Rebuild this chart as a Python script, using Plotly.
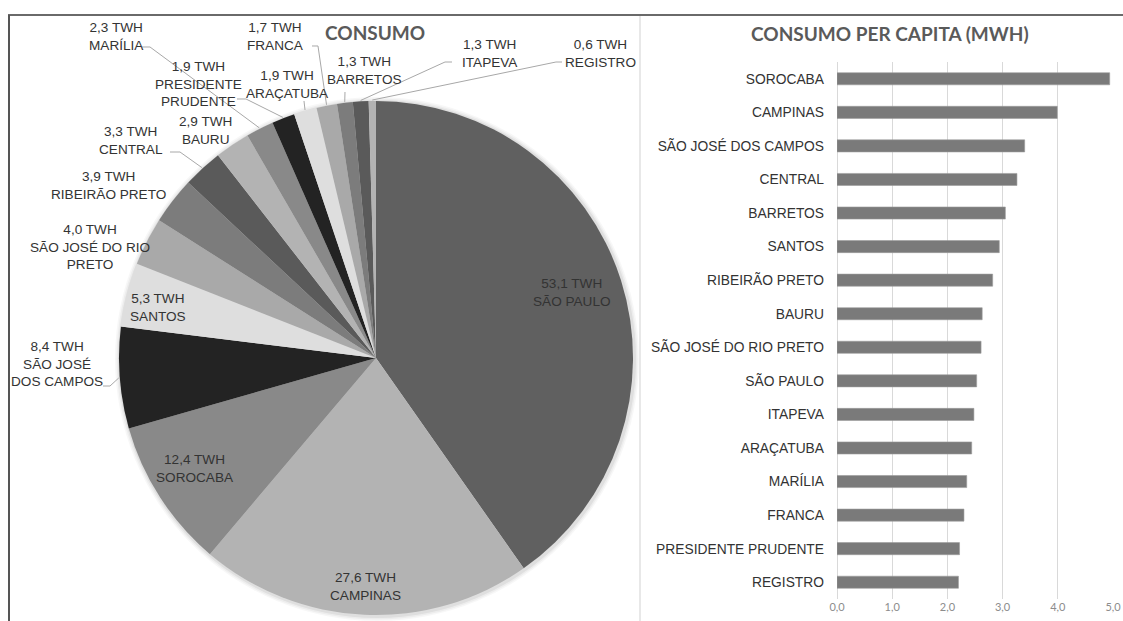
import math
import plotly.graph_objects as go

W, H = 1123, 621

# ---- Consumo total por região (TWh) ----
regioes = ["SÃO PAULO", "CAMPINAS", "SOROCABA", "SÃO JOSÉ DOS CAMPOS", "SANTOS",
           "SÃO JOSÉ DO RIO PRETO", "RIBEIRÃO PRETO", "CENTRAL", "BAURU", "MARÍLIA",
           "PRESIDENTE PRUDENTE", "ARAÇATUBA", "FRANCA", "BARRETOS", "ITAPEVA", "REGISTRO"]
consumo_twh = [53.1, 27.6, 12.4, 8.4, 5.3, 4.0, 3.9, 3.3, 2.9, 2.3, 1.9, 1.9, 1.7, 1.3, 1.3, 0.6]
nomes_rotulo = ["SÃO PAULO", "CAMPINAS", "SOROCABA", "SÃO JOSÉ<br>DOS CAMPOS", "SANTOS",
                "SÃO JOSÉ DO RIO<br>PRETO", "RIBEIRÃO PRETO", "CENTRAL", "BAURU", "MARÍLIA",
                "PRESIDENTE<br>PRUDENTE", "ARAÇATUBA", "FRANCA", "BARRETOS", "ITAPEVA", "REGISTRO"]
cores_pizza = ["#606060", "#b3b3b3", "#898989", "#232323", "#dedede", "#a9a9a9", "#7c7c7c",
               "#5a5a5a", "#b3b3b3", "#898989", "#232323", "#dedede", "#a9a9a9", "#7c7c7c",
               "#5a5a5a", "#b3b3b3"]

# ---- Consumo per capita (MWh) ----
regioes_pc = ["SOROCABA", "CAMPINAS", "SÃO JOSÉ DOS CAMPOS", "CENTRAL", "BARRETOS", "SANTOS",
              "RIBEIRÃO PRETO", "BAURU", "SÃO JOSÉ DO RIO PRETO", "SÃO PAULO", "ITAPEVA",
              "ARAÇATUBA", "MARÍLIA", "FRANCA", "PRESIDENTE PRUDENTE", "REGISTRO"]
consumo_pc_mwh = [4.94, 3.99, 3.40, 3.26, 3.05, 2.94, 2.82, 2.63, 2.61, 2.53, 2.48, 2.44,
                  2.35, 2.30, 2.22, 2.20]
ticks_pc = [0, 1, 2, 3, 4, 5]

# ---- geometry helpers (pixel -> paper) ----
def px(x):
    return x / W

def py(y):
    return 1 - y / H

CX, CY, R = 376, 358, 257          # pie centre / radius in pixels
TOTAL = sum(consumo_twh)


def borda(i, extra=1.0):
    """Point on the pie rim at the middle angle of slice i (pixels)."""
    antes = sum(consumo_twh[:i])
    ang = (antes + consumo_twh[i] / 2) / TOTAL * 2 * math.pi
    r = R + extra
    return CX + r * math.sin(ang), CY - r * math.cos(ang)


FONT_TXT = "Liberation Sans, Arial, sans-serif"
FONT_TIT = "Lato, Open Sans, sans-serif"

fig = go.Figure()

fig.add_trace(go.Pie(
    values=consumo_twh, labels=regioes, sort=False, direction="clockwise", rotation=0,
    marker=dict(colors=cores_pizza, line=dict(width=0)),
    textinfo="none", hoverinfo="label+value", showlegend=False,
    domain=dict(x=[px(CX - R), px(CX + R)], y=[py(CY + R), py(CY - R)]),
))

fig.add_trace(go.Bar(
    x=consumo_pc_mwh, y=regioes_pc, orientation="h",
    marker=dict(color="#7a7a7a", line=dict(color="#9c9c9c", width=0.6)),
    showlegend=False, xaxis="x", yaxis="y",
))

# label centres (pixels) for each slice
pos_rotulos = [(572, 292), (365, 586), (195, 468), (57, 364), (158, 307), (90, 247),
               (108, 185), (131, 140), (205, 130), (116, 36), (198, 84), (287, 85),
               (275, 36), (364, 70), (490, 54), (600, 54)]

anots = []
for i, (v, nome) in enumerate(zip(consumo_twh, nomes_rotulo)):
    txt = f"{v:.1f}".replace(".", ",") + " TWH<br>" + nome
    x, y = pos_rotulos[i]
    anots.append(dict(x=px(x), y=py(y), xref="paper", yref="paper", text=txt,
                      showarrow=False, align="center", xanchor="center", yanchor="middle",
                      font=dict(family=FONT_TXT, size=13.6, color="#333333")))

anots.append(dict(x=px(375), y=py(32), xref="paper", yref="paper", text="<b>CONSUMO</b>",
                  showarrow=False, xanchor="center", yanchor="middle",
                  font=dict(family=FONT_TIT, size=19, color="#5a5a5a")))
anots.append(dict(x=px(890), y=py(33), xref="paper", yref="paper",
                  text="<b>CONSUMO PER CAPITA (MWH)</b>",
                  showarrow=False, xanchor="center", yanchor="middle",
                  font=dict(family=FONT_TIT, size=19, color="#5a5a5a")))

# leader lines: start point near label, optional elbow, then slice rim
guias = {
    3: [(103, 386), (110, 386)],
    7: [(170, 152), (180, 152)],
    9: [(142, 47), (150, 47)],
    10: [(237, 99), (246, 99)],
    11: [(304, 101)],
    12: [(312, 46), (318, 46)],
    13: [(345, 92)],
    14: [(452, 62), (445, 62)],
    15: [(562, 62), (556, 62)],
}

shapes = []
# soft shadow round the pie
for dr, a in [(5, 0.03), (3.5, 0.04), (2, 0.06)]:
    shapes.append(dict(type="circle", xref="paper", yref="paper", layer="below",
                       x0=px(CX - R - dr + 1), x1=px(CX + R + dr + 1),
                       y0=py(CY + R + dr + 1), y1=py(CY - R - dr + 1),
                       fillcolor=f"rgba(0,0,0,{a})", line=dict(width=0)))

for i, pts in guias.items():
    pts = pts + [borda(i)]
    d = "M " + " L ".join(f"{px(x):.5f},{py(y):.5f}" for x, y in pts)
    shapes.append(dict(type="path", xref="paper", yref="paper", path=d,
                       line=dict(color="#a8a8a8", width=1)))

# frame lines
shapes.append(dict(type="line", xref="paper", yref="paper", x0=px(8), x1=1, y0=py(15), y1=py(15),
                   line=dict(color="#6a6a6a", width=2)))
shapes.append(dict(type="line", xref="paper", yref="paper", x0=px(9), x1=px(9), y0=py(15), y1=0,
                   line=dict(color="#555555", width=2)))
shapes.append(dict(type="line", xref="paper", yref="paper", x0=px(640), x1=px(640), y0=py(16), y1=0,
                   line=dict(color="#e8e8e8", width=2)))

fig.update_layout(
    width=W, height=H, margin=dict(l=0, r=0, t=0, b=0),
    paper_bgcolor="white", plot_bgcolor="white",
    separators=",.", bargap=0.64,
    annotations=anots, shapes=shapes,
    xaxis=dict(domain=[px(837), px(1113)], range=[0, 5], tickvals=ticks_pc, tickformat=".1f",
               showgrid=True, gridcolor="#d9d9d9", gridwidth=1,
               zeroline=True, zerolinecolor="#d9d9d9", zerolinewidth=1,
               showline=False, ticks="", fixedrange=True, automargin=False,
               tickfont=dict(family=FONT_TIT, size=11, color="#8c8c8c")),
    yaxis=dict(domain=[py(599), py(62)], categoryorder="array", categoryarray=regioes_pc,
               autorange="reversed", showgrid=False, zeroline=False, showline=False,
               ticks="", ticklabelstandoff=12, automargin=False,
               tickfont=dict(family=FONT_TXT, size=13.8, color="#333333")),
)

fig.write_html("out.html")
